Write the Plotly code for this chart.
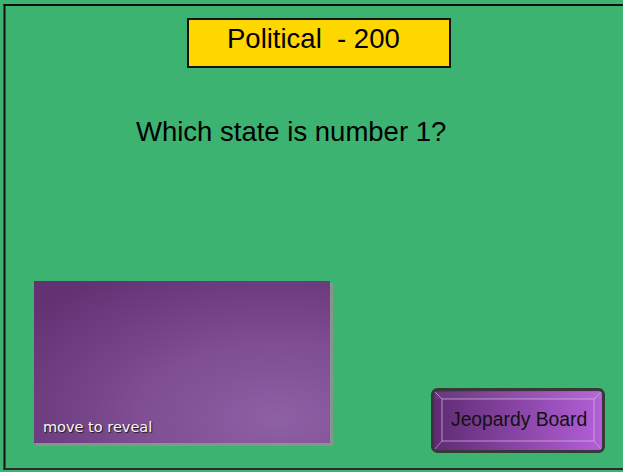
import base64
import plotly.graph_objects as go

W, H = 623, 472
title_text = ["Political\u00a0\u00a0- 200"]
question_text = ["Which state is number 1?"]
card_text = ["move to reveal"]
button_text = ["Jeopardy Board"]

GREEN = "#3cb371"


def svg_uri(svg):
    return "data:image/svg+xml;base64," + base64.b64encode(svg.encode()).decode()


card_svg = """<svg xmlns='http://www.w3.org/2000/svg' width='299' height='165' viewBox='0 0 299 165'>
<defs><radialGradient id='g' cx='0.82' cy='0.85' r='1.05' fx='0.82' fy='0.85'>
<stop offset='0' stop-color='#8e60a4'/><stop offset='0.45' stop-color='#7e4d92'/><stop offset='1' stop-color='#633273'/></radialGradient></defs>
<rect x='2' y='2' width='297' height='163' fill='#8a948f'/>
<rect x='0' y='0' width='296' height='162' fill='url(#g)'/>
</svg>"""

button_svg = """<svg xmlns='http://www.w3.org/2000/svg' width='174' height='65' viewBox='0 0 174 65'>
<defs><linearGradient id='b' x1='0' y1='0' x2='1' y2='0'>
<stop offset='0' stop-color='#5e2b72'/><stop offset='1' stop-color='#b45fd9'/></linearGradient></defs>
<rect x='1.5' y='1.5' width='171' height='62' rx='5' ry='5' fill='url(#b)' stroke='#383838' stroke-width='3'/>
<rect x='11' y='11' width='152' height='42' fill='none' stroke='#d9b8e8' stroke-opacity='0.6' stroke-width='1.2'/>
<line x1='4' y1='4' x2='11' y2='11' stroke='#d9b8e8' stroke-opacity='0.6'/>
<line x1='170' y1='4' x2='163' y2='11' stroke='#d9b8e8' stroke-opacity='0.6'/>
<line x1='4' y1='61' x2='11' y2='53' stroke='#d9b8e8' stroke-opacity='0.6'/>
<line x1='170' y1='61' x2='163' y2='53' stroke='#d9b8e8' stroke-opacity='0.6'/>
<rect x='4' y='4' width='166' height='7' fill='#ffffff' fill-opacity='0.06'/>
</svg>"""

fig = go.Figure()
fig.update_layout(
    width=W, height=H,
    margin=dict(l=0, r=0, t=0, b=0),
    paper_bgcolor=GREEN, plot_bgcolor=GREEN,
    xaxis=dict(range=[0, W], visible=False, fixedrange=True),
    yaxis=dict(range=[H, 0], visible=False, fixedrange=True),
    showlegend=False,
)

# outer border (left, top, bottom; right edge runs off the page)
fig.add_shape(type="line", x0=3.5, y0=5, x1=W, y1=5, line=dict(color="#111111", width=2))
fig.add_shape(type="line", x0=4.5, y0=4, x1=4.5, y1=470, line=dict(color="#111111", width=2))
fig.add_shape(type="line", x0=3.5, y0=469, x1=W, y1=469, line=dict(color="#2a2a2a", width=2))
# title box
fig.add_shape(type="rect", x0=188, y0=19, x1=450, y1=67,
              line=dict(color="#111111", width=2), fillcolor="#ffd700")

fig.add_layout_image(dict(source=svg_uri(card_svg), xref="x", yref="y",
                          x=34, y=281, sizex=299, sizey=165,
                          xanchor="left", yanchor="top", sizing="stretch", layer="above"))
fig.add_layout_image(dict(source=svg_uri(button_svg), xref="x", yref="y",
                          x=431, y=388, sizex=174, sizey=65,
                          xanchor="left", yanchor="top", sizing="stretch", layer="above"))

fig.add_annotation(x=313, y=38, xref="x", yref="y", text=title_text[0], showarrow=False,
                   font=dict(family="Liberation Sans, Arial", size=27.5, color="#000000"))
fig.add_annotation(x=291, y=131, xref="x", yref="y", text=question_text[0], showarrow=False,
                   font=dict(family="Liberation Sans, Arial", size=27.5, color="#000000"))
fig.add_annotation(x=41, y=427, xref="x", yref="y", text=card_text[0], showarrow=False,
                   xanchor="left",
                   font=dict(family="DejaVu Sans, Verdana", size=14.5, color="#f8f4f8",
                             shadow="1px 1px 1px #1a1a1a"))
fig.add_annotation(x=519, y=419, xref="x", yref="y", text=button_text[0], showarrow=False,
                   font=dict(family="Liberation Sans, Arial", size=19.3, color="#111111"))

fig.write_html("out.html", config={"displayModeBar": False},
               post_script="document.body.style.margin='0';document.body.style.background='%s';" % GREEN)
